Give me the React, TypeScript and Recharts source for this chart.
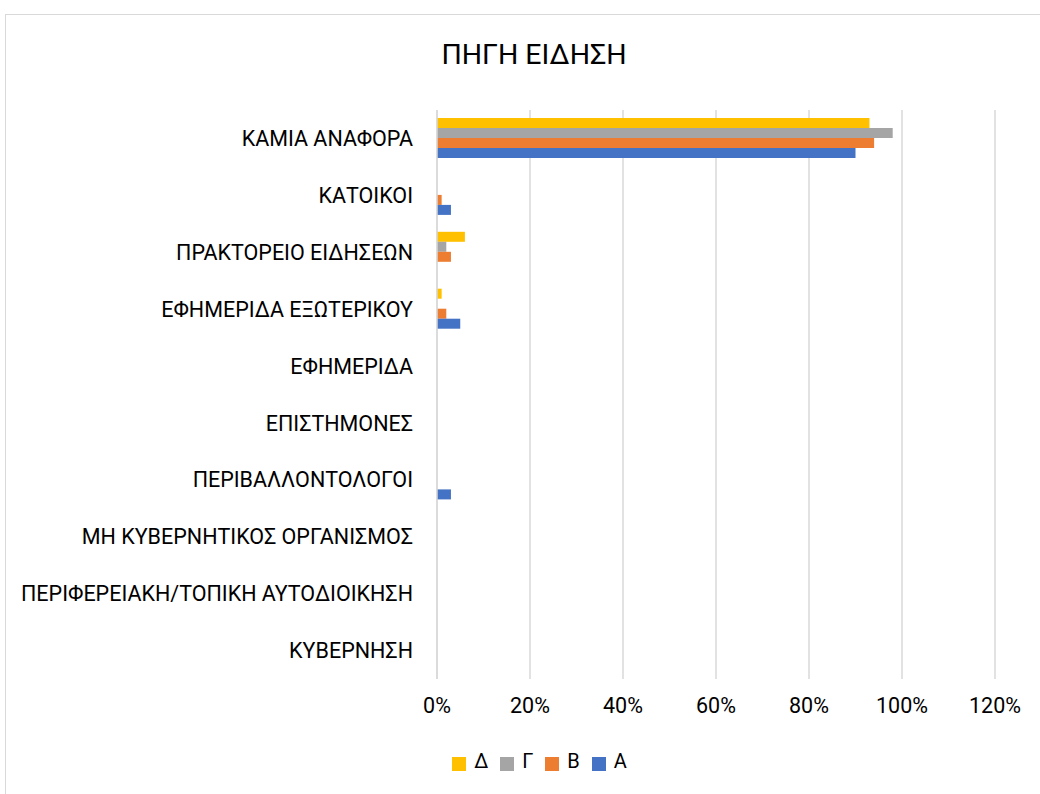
import { BarChart, Bar, XAxis, YAxis, CartesianGrid, Legend } from 'recharts'

const categories = [
  'ΚΑΜΙΑ ΑΝΑΦΟΡΑ',
  'ΚΑΤΟΙΚΟΙ',
  'ΠΡΑΚΤΟΡΕΙΟ ΕΙΔΗΣΕΩΝ',
  'ΕΦΗΜΕΡΙΔΑ ΕΞΩΤΕΡΙΚΟΥ',
  'ΕΦΗΜΕΡΙΔΑ',
  'ΕΠΙΣΤΗΜΟΝΕΣ',
  'ΠΕΡΙΒΑΛΛΟΝΤΟΛΟΓΟΙ',
  'ΜΗ ΚΥΒΕΡΝΗΤΙΚΟΣ ΟΡΓΑΝΙΣΜΟΣ',
  'ΠΕΡΙΦΕΡΕΙΑΚΗ/ΤΟΠΙΚΗ ΑΥΤΟΔΙΟΙΚΗΣΗ',
  'ΚΥΒΕΡΝΗΣΗ',
]

// percentages per group
const delta = [93, 0, 6, 1, 0, 0, 0, 0, 0, 0]
const gamma = [98, 0, 2, 0, 0, 0, 0, 0, 0, 0]
const beta = [94, 1, 3, 2, 0, 0, 0, 0, 0, 0]
const alpha = [90, 3, 0, 5, 0, 0, 3, 0, 0, 0]

const xTicks = [0, 20, 40, 60, 80, 100, 120]
const legendOrder = ['d', 'g', 'b', 'a']

const data = categories.map((name, i) => ({
  name,
  d: delta[i],
  g: gamma[i],
  b: beta[i],
  a: alpha[i],
}))

const font = 'Roboto, "Open Sans", sans-serif'

export default function App() {
  return (
    <div
      style={{
        position: 'absolute',
        left: 5,
        top: 14,
        width: 1040,
        height: 790,
        border: '1px solid #d9d9d9',
        background: '#fff',
        fontFamily: font,
      }}
    >
      <div
        style={{
          position: 'absolute',
          top: 23,
          left: 0,
          width: '100%',
          paddingLeft: 16,
          boxSizing: 'border-box',
          textAlign: 'center',
          fontSize: 28.5,
          color: '#000',
        }}
      >
        ΠΗΓΗ ΕΙΔΗΣΗ
      </div>
      <BarChart
        width={1034}
        height={780}
        data={data}
        layout="vertical"
        margin={{ top: 95, right: 45, left: 0, bottom: 22 }}
        barSize={10}
        barGap={0}
      >
        <CartesianGrid horizontal={false} vertical={true} stroke="#d9d9d9" strokeWidth={1.5} />
        <XAxis
          type="number"
          domain={[0, 120]}
          ticks={xTicks}
          tickFormatter={(v: number) => `${v}%`}
          axisLine={false}
          tickLine={false}
          tickSize={0}
          tickMargin={19}
          height={70}
          tick={{ fontSize: 21.5, fill: '#000', fontFamily: font }}
        />
        <YAxis
          type="category"
          dataKey="name"
          width={431}
          axisLine={{ stroke: '#d9d9d9', strokeWidth: 1.5 }}
          tickLine={false}
          tickSize={0}
          tickMargin={24}
          interval={0}
          tick={{ fontSize: 21.5, fill: '#000', fontFamily: font }}
        />
        <Legend
          verticalAlign="bottom"
          align="center"
          iconType="square"
          iconSize={14}
          itemSorter={(item: any) => legendOrder.indexOf(item.dataKey)}
          wrapperStyle={{ paddingLeft: 45 }}
          formatter={(v: string) => (
            <span style={{ color: '#000', fontSize: 20, marginLeft: 4, marginRight: 2 }}>{v}</span>
          )}
        />
        <Bar dataKey="d" name="Δ" fill="#FFC000" isAnimationActive={false} />
        <Bar dataKey="g" name="Γ" fill="#A5A5A5" isAnimationActive={false} />
        <Bar dataKey="b" name="Β" fill="#ED7D31" isAnimationActive={false} />
        <Bar dataKey="a" name="Α" fill="#4472C4" isAnimationActive={false} />
      </BarChart>
    </div>
  )
}
